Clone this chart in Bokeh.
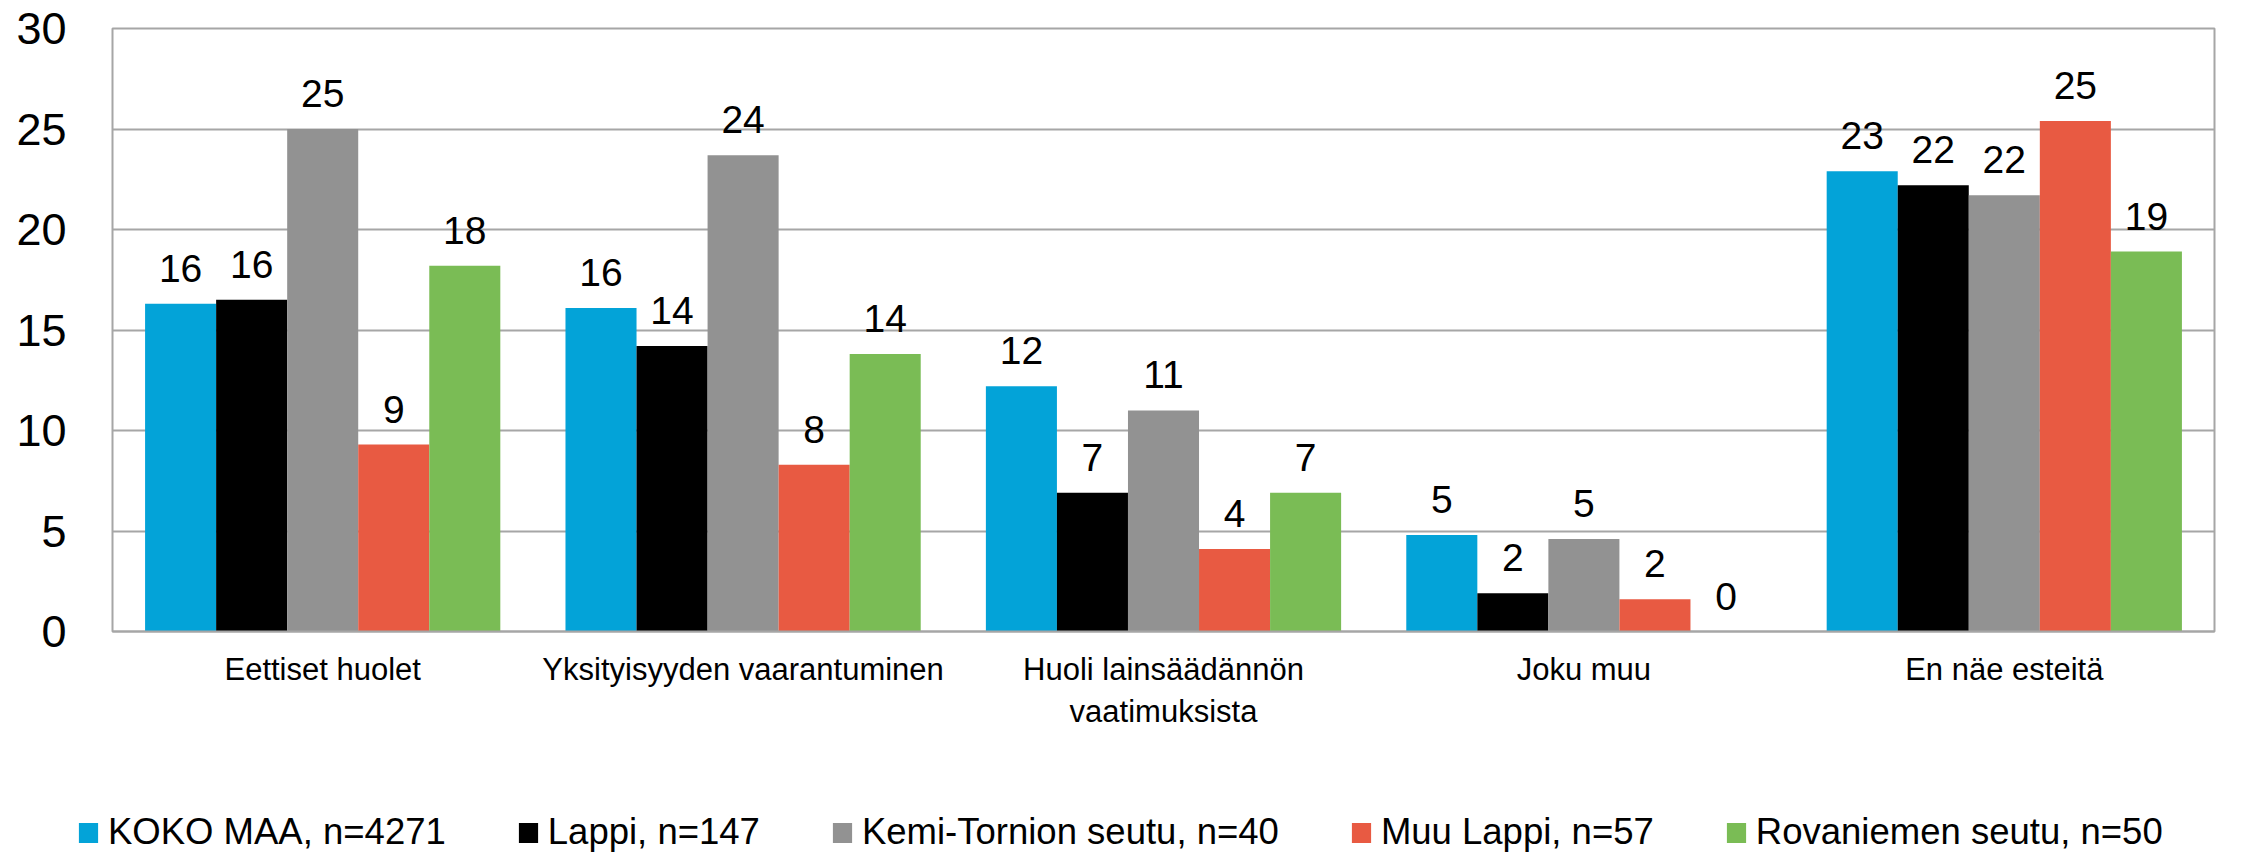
from bokeh.plotting import figure
from bokeh.layouts import column, row
from bokeh.models import (ColumnDataSource, FactorRange, Range1d, FixedTicker,
                          LabelSet, Legend, LegendItem)
from bokeh.transform import dodge
from bokeh.core.properties import value
from bokeh.embed import file_html
from bokeh.resources import INLINE

categories = ["Eettiset huolet", "Yksityisyyden vaarantuminen",
              "Huoli lainsäädännön\nvaatimuksista", "Joku muu", "En näe esteitä"]
series = ["KOKO MAA, n=4271", "Lappi, n=147", "Kemi-Tornion seutu, n=40",
          "Muu Lappi, n=57", "Rovaniemen seutu, n=50"]
koko_maa = [16.3, 16.1, 12.2, 4.8, 22.9]
lappi = [16.5, 14.2, 6.9, 1.9, 22.2]
kemi_tornio = [25.0, 23.7, 11.0, 4.6, 21.7]
muu_lappi = [9.3, 8.3, 4.1, 1.6, 25.4]
rovaniemi = [18.2, 13.8, 6.9, 0.0, 18.9]
koko_maa_lbl = ["16", "16", "12", "5", "23"]
lappi_lbl = ["16", "14", "7", "2", "22"]
kemi_tornio_lbl = ["25", "24", "11", "5", "22"]
muu_lappi_lbl = ["9", "8", "4", "2", "25"]
rovaniemi_lbl = ["18", "14", "7", "0", "19"]
y_ticks = [0, 5, 10, 15, 20, 25, 30]

values = [koko_maa, lappi, kemi_tornio, muu_lappi, rovaniemi]
labels = [koko_maa_lbl, lappi_lbl, kemi_tornio_lbl, muu_lappi_lbl, rovaniemi_lbl]
colors = ["#03A3D8", "#000000", "#929292", "#E85A42", "#7ABC55"]

FONT = "Liberation Sans"
GRID = "#A6A6A6"
MAIN_H = 783

p = figure(width=2260, height=MAIN_H, x_range=FactorRange(*categories),
           y_range=Range1d(0, 30), output_backend="svg", toolbar_location=None,
           min_border_left=112, min_border_right=46, min_border_top=28,
           min_border_bottom=MAIN_H - 631)
p.background_fill_color = "white"
p.border_fill_color = "white"
p.outline_line_color = GRID
p.outline_line_width = 2

bar_w = 0.169
offsets = [-2 * bar_w, -bar_w, 0, bar_w, 2 * bar_w]
for i in range(5):
    src = ColumnDataSource(dict(cat=categories, val=values[i], lbl=labels[i]))
    p.vbar(x=dodge("cat", offsets[i], range=p.x_range), top="val",
           width=bar_w, source=src, fill_color=colors[i], line_color=None)
    ls = LabelSet(x=dodge("cat", offsets[i], range=p.x_range), y="val", text="lbl",
                  source=src, text_align="center", text_baseline="alphabetic",
                  y_offset=22, text_font=value(FONT), text_font_size=value("39px"),
                  text_color="black")
    p.add_layout(ls)

p.yaxis.ticker = FixedTicker(ticks=y_ticks)
p.yaxis.axis_line_color = None
p.yaxis.major_tick_line_color = None
p.yaxis.minor_tick_line_color = None
p.yaxis.major_label_standoff = 40
p.yaxis.major_label_text_font = FONT
p.yaxis.major_label_text_font_size = "45px"
p.yaxis.major_label_text_color = "black"

p.xaxis.axis_line_color = GRID
p.xaxis.axis_line_width = 2
p.xaxis.major_tick_line_color = None
p.xaxis.minor_tick_line_color = None
p.xaxis.major_label_standoff = 14
p.xaxis.major_label_text_font = FONT
p.xaxis.major_label_text_font_size = "31px"
p.xaxis.major_label_text_color = "black"

p.xgrid.grid_line_color = None
p.ygrid.grid_line_color = GRID
p.ygrid.grid_line_width = 2
p.ygrid.ticker = FixedTicker(ticks=y_ticks)

# legend strip below the chart
pl = figure(width=2260, height=853 - MAIN_H, x_range=Range1d(0, 1),
            y_range=Range1d(0, 1), output_backend="svg", toolbar_location=None,
            min_border_left=0, min_border_right=0, min_border_top=0,
            min_border_bottom=0, x_axis_type=None, y_axis_type=None)
pl.outline_line_color = None
pl.grid.visible = False
items = []
for i in range(5):
    dummy = ColumnDataSource(dict(x=[5], top=[5]))
    r = pl.vbar(x="x", top="top", width=0.1, source=dummy,
                fill_color=colors[i], line_color=None)
    items.append(LegendItem(label=series[i], renderers=[r]))

legend = Legend(items=items, orientation="horizontal", location=(76, 0),
                glyph_width=24, glyph_height=25, label_height=40,
                label_standoff=8, spacing=70,
                padding=0, margin=0, border_line_color=None,
                background_fill_alpha=0, label_text_font=FONT,
                label_text_font_size="36.5px", label_text_color="black")
pl.add_layout(legend)

layout = column(p, row(pl, spacing=0), spacing=0)
open("out.html", "w").write(file_html(layout, INLINE))
